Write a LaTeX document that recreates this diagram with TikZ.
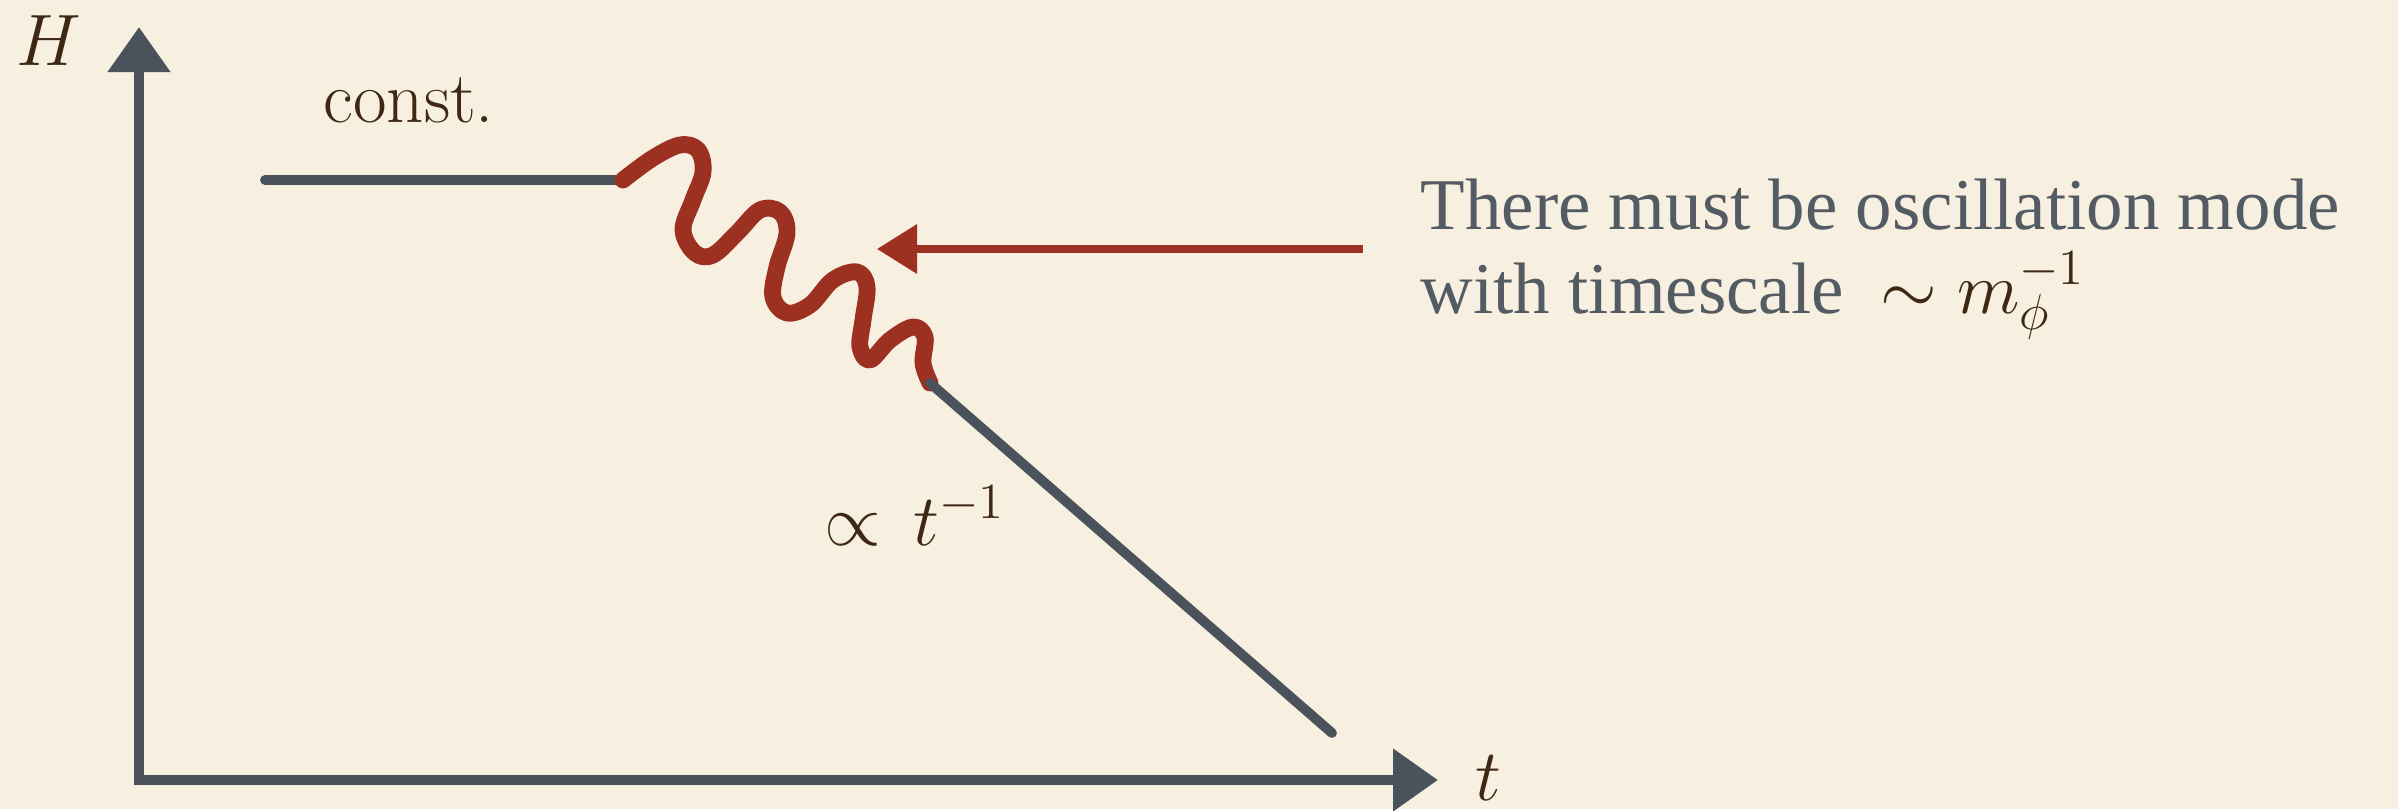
\documentclass[tikz,border=0pt]{standalone}
\usepackage{fontspec}
\usepackage{tikz}
\usetikzlibrary{arrows.meta,positioning}
\newfontfamily\notefont{Liberation Serif}
\definecolor{bgcream}{HTML}{F7EFE0}
\definecolor{axisgray}{HTML}{4A525B}
\definecolor{oscred}{HTML}{9C3021}
\definecolor{labelbrown}{HTML}{3E2814}
\definecolor{notegray}{HTML}{535B63}
\tikzset{
  axis/.style={line width=3.1pt, color=axisgray, line join=miter,
    {Triangle[length=4.5mm,width=6mm]}-{Triangle[length=4.5mm,width=6mm]}},
  curve/.style={line width=2.8pt, color=axisgray, line cap=round},
  osc/.style={line width=4.8pt, color=oscred, line cap=round, line join=round},
  ptr/.style={line width=2pt, color=oscred, -{Triangle[length=4mm,width=4.8mm]}},
  lbl/.style={font=\huge, text=labelbrown, inner sep=0pt},
  note/.style={font=\fontsize{20.74}{24.1}\selectfont\notefont, text=notegray, align=left, inner sep=0pt}
}
\begin{document}
\begin{tikzpicture}
\fill[bgcream] (0,0) rectangle (23.98,8.09);

% axes
\coordinate (O) at (1.39,0.29);
\coordinate (Htip) at (1.39,7.82);
\coordinate (ttip) at (14.38,0.29);
\draw[axis] (Htip) -- (O) -- (ttip);
\node[lbl] (Hlab) at (0.49,7.68) {$H$};
\node[lbl] (tlab) at (14.88,0.31) {$t$};

% H(t): constant, oscillation, then decay
\coordinate (c0) at (2.65,6.29);
\coordinate (c1) at (6.23,6.29);
\coordinate (d0) at (9.30,4.26);
\coordinate (d1) at (13.32,0.76);
\draw[curve] (c0) -- (c1);
\draw[osc] plot[smooth, tension=0.6] coordinates {
  (6.23,6.29) (6.53,6.51) (6.80,6.64) (6.98,6.59) (7.03,6.37) (6.93,6.09)
  (6.83,5.79) (6.95,5.56) (7.13,5.54) (7.37,5.76) (7.60,5.99) (7.80,5.97)
  (7.87,5.76) (7.77,5.42) (7.73,5.12) (7.87,4.96) (8.10,5.04) (8.33,5.29)
  (8.57,5.37) (8.67,5.22) (8.63,4.89) (8.60,4.62) (8.70,4.49) (8.90,4.69)
  (9.13,4.82) (9.25,4.72) (9.23,4.46) (9.30,4.26)};
\draw[curve] (d0) -- (d1);
\node[lbl, anchor=base west] (constlab) at (3.23,6.87) {const.};
\node[lbl, anchor=base west] (powlab) at (8.24,2.64) {$\propto\mkern3mu t^{-1}$};

% note
\node[note, anchor=north west] (note) at (14.20,6.31)
  {There must be oscillation mode\\with timescale~ {\color{labelbrown}$\sim m_\phi^{-1}$}};
\coordinate (ptrstart) at (13.63,5.60);
\coordinate (ptrtip) at (8.77,5.60);
\draw[ptr] (ptrstart) -- (ptrtip);
\end{tikzpicture}
\end{document}
